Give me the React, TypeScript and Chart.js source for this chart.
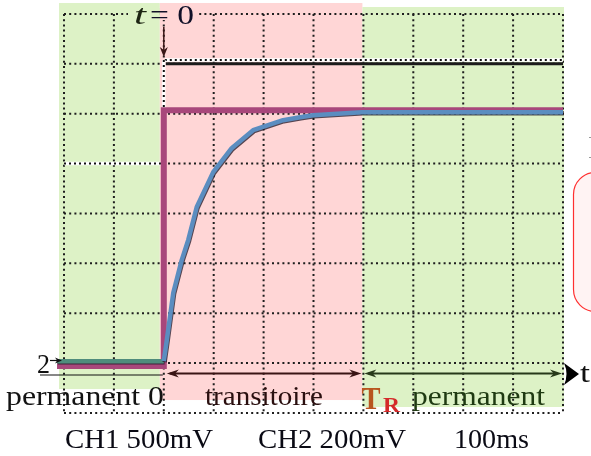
import React, { useEffect, useRef } from "react";
import { Chart, registerables } from "chart.js";
Chart.register(...registerables);

// x: time in ms (100 ms / division, t = 0 at the step); y: screen divisions (0 = bottom graticule line)
const ch1Time = [-214, 0, 0, 800];
const ch1Level = [0.94, 0.94, 6.07, 6.07];
const ch2Time = [-214, 0, 6, 19, 36, 49, 66, 99, 136, 179, 239, 273, 299, 397, 800];
const ch2Level = [1.04, 1.04, 1.46, 2.41, 3.07, 3.47, 4.13, 4.83, 5.31, 5.67, 5.87, 5.93, 5.97, 6.03, 6.03];
const refTime = [4, 800];
const refLevel = [7.0, 7.0];
const gridTimes = [-200, -100, 0, 100, 200, 300, 400, 500, 600, 700, 800];
const gridDivs = [0, 1, 2, 3, 4, 5, 6, 7, 8];
const cursorHigh = 7.08;
const cursorLow = 5.0;
const tR = 398;
const bottomLabels = ["CH1 500mV", "CH2 200mV", "100ms"];
const phaseLabels = ["permanent 0", "transitoire", "permanent"];

const GREEN = "#ddf2c6";
const PINK = "#ffd6d6";
const SERIF = '"Liberation Serif", "DejaVu Serif", serif';

function pts(xs: number[], ys: number[]) {
  return xs.map((v, i) => ({ x: v, y: ys[i] }));
}

function dotted(ctx: CanvasRenderingContext2D, x1: number, y1: number, x2: number, y2: number, color = "#1e1e1e") {
  ctx.save();
  ctx.strokeStyle = color;
  ctx.lineWidth = 2;
  ctx.setLineDash([2, 3.2]);
  ctx.beginPath();
  ctx.moveTo(x1, y1);
  ctx.lineTo(x2, y2);
  ctx.stroke();
  ctx.restore();
}

function cursor(ctx: CanvasRenderingContext2D, x1: number, y1: number, x2: number, y2: number) {
  ctx.save();
  ctx.strokeStyle = "#ffffff";
  ctx.lineWidth = 3.5;
  ctx.beginPath();
  ctx.moveTo(x1, y1);
  ctx.lineTo(x2, y2);
  ctx.stroke();
  ctx.strokeStyle = "#111";
  ctx.lineWidth = 2;
  ctx.setLineDash([2, 3]);
  ctx.beginPath();
  ctx.moveTo(x1, y1);
  ctx.lineTo(x2, y2);
  ctx.stroke();
  ctx.restore();
}

function fitText(ctx: CanvasRenderingContext2D, text: string, x: number, y: number, width: number, font: string, color: string) {
  ctx.save();
  ctx.font = font;
  ctx.fillStyle = color;
  ctx.textBaseline = "alphabetic";
  ctx.textAlign = "left";
  const w = ctx.measureText(text).width;
  ctx.translate(x, y);
  ctx.scale(width / w, 1);
  ctx.fillText(text, 0, 0);
  ctx.restore();
}

function head(ctx: CanvasRenderingContext2D, tx: number, ty: number, dx: number, dy: number, len: number, half: number, color: string) {
  const px = -dy, py = dx;
  const bx = tx - dx * len, by = ty - dy * len;
  const nx = tx - dx * len * 0.7, ny = ty - dy * len * 0.7;
  ctx.save();
  ctx.fillStyle = color;
  ctx.beginPath();
  ctx.moveTo(tx, ty);
  ctx.lineTo(bx + px * half, by + py * half);
  ctx.lineTo(nx, ny);
  ctx.lineTo(bx - px * half, by - py * half);
  ctx.closePath();
  ctx.fill();
  ctx.restore();
}

function line(ctx: CanvasRenderingContext2D, x1: number, y1: number, x2: number, y2: number, color: string, w: number) {
  ctx.save();
  ctx.strokeStyle = color;
  ctx.lineWidth = w;
  ctx.beginPath();
  ctx.moveTo(x1, y1);
  ctx.lineTo(x2, y2);
  ctx.stroke();
  ctx.restore();
}

const deco = {
  id: "deco",
  beforeDatasetsDraw(chart: any) {
    const { ctx, scales } = chart;
    const X = (v: number) => scales.x.getPixelForValue(v);
    const Y = (v: number) => scales.y.getPixelForValue(v);
    ctx.save();
    ctx.fillStyle = GREEN;
    ctx.fillRect(59, Y(8.22), X(-8) - 59, Y(0.48) - Y(8.22));
    ctx.fillStyle = PINK;
    ctx.fillRect(X(-8), Y(8.22), X(tR) - X(-8), Y(0.26) - Y(8.22));
    ctx.fillStyle = GREEN;
    ctx.fillRect(X(tR), Y(8.14), X(802) - X(tR), Y(0.12) - Y(8.14));
    gridTimes.forEach((t) => dotted(ctx, X(t), Y(8), X(t), Y(0)));
    gridDivs.forEach((d) => dotted(ctx, X(-200), Y(d), X(800), Y(d)));
    cursor(ctx, X(0) + 1, Y(cursorHigh), X(800), Y(cursorHigh));
    cursor(ctx, X(0), Y(cursorHigh), X(0), Y(ch1Level[2]));
    cursor(ctx, X(-200), Y(cursorLow), X(0) - 2, Y(cursorLow));
    ctx.restore();
  },
  beforeDatasetDraw(chart: any, args: any) {
    if (args.index === 0) {
      const ctx = chart.ctx;
      ctx.save();
      ctx.shadowColor = "rgba(30,20,35,0.75)";
      ctx.shadowOffsetX = 0.8;
      ctx.shadowOffsetY = 1;
      ctx.shadowBlur = 0.3;
    }
  },
  afterDatasetDraw(chart: any, args: any) {
    if (args.index === 0) chart.ctx.restore();
  },
  afterDatasetsDraw(chart: any) {
    const { ctx, scales } = chart;
    const X = (v: number) => scales.x.getPixelForValue(v);
    const Y = (v: number) => scales.y.getPixelForValue(v);
    ctx.save();

    ctx.fillStyle = GREEN;
    ctx.fillRect(128, 8, X(-8) - 128, 12);
    ctx.fillStyle = PINK;
    ctx.fillRect(X(-8), 8, 198 - X(-8), 12);
    fitText(ctx, "t", 134, 24, 12, `italic 28px ${SERIF}`, "#1c2412");
    fitText(ctx, "= 0", 150, 24, 44, `28px ${SERIF}`, "#101028");
    line(ctx, X(0), 27, X(0), 50, "#3a1616", 1.5);
    head(ctx, X(0), 57, 0, 1, 10, 4, "#3a1616");

    fitText(ctx, "2", 37, 373, 13, `28px ${SERIF}`, "#111");
    line(ctx, 50, 360.5, 58, 360.5, "#111", 1.2);
    head(ctx, 62, 360.5, 1, 0, 7, 3, "#111");
    line(ctx, 40, 375, X(0) - 1, 375, "#111", 1);

    const ya = 373.5;
    line(ctx, X(0) + 6, ya, X(tR) - 6, ya, "#3a1414", 2);
    head(ctx, X(0) + 3, ya, -1, 0, 12, 4, "#3a1414");
    head(ctx, X(tR) - 1, ya, 1, 0, 12, 4, "#3a1414");
    line(ctx, X(tR) + 6, ya, X(800) - 6, ya, "#27391a", 2);
    head(ctx, X(tR) + 2, ya, -1, 0, 12, 4, "#27391a");
    head(ctx, X(800) - 1, ya, 1, 0, 12, 4, "#27391a");

    ctx.fillStyle = "#000";
    ctx.beginPath();
    ctx.moveTo(X(800) + 1, 363);
    ctx.quadraticCurveTo(X(800) + 6, 374, X(800) + 1, 385);
    ctx.lineTo(X(800) + 16, 374);
    ctx.closePath();
    ctx.fill();
    fitText(ctx, "t", 580, 382, 10, `28px ${SERIF}`, "#111");

    fitText(ctx, phaseLabels[0], 6, 405, 158, `28px ${SERIF}`, "#121212");
    fitText(ctx, phaseLabels[1], 205, 405, 118, `28px ${SERIF}`, "#2a0f0f");
    fitText(ctx, phaseLabels[2], 412, 405, 133, `28px ${SERIF}`, "#1f3a12");
    fitText(ctx, "T", X(tR) - 1, 409, 19, `bold 32px ${SERIF}`, "#b8561f");
    fitText(ctx, "R", 383, 412, 17, `bold 21px ${SERIF}`, "#d42a2a");

    fitText(ctx, bottomLabels[0], 65, 448, 148, `28px ${SERIF}`, "#0a0a14");
    fitText(ctx, bottomLabels[1], 258, 448, 148, `28px ${SERIF}`, "#0a0a14");
    fitText(ctx, bottomLabels[2], 454, 448, 75, `28px ${SERIF}`, "#0a0a14");

    ctx.fillStyle = "#fff3f3";
    ctx.strokeStyle = "#ff3030";
    ctx.lineWidth = 1.2;
    ctx.beginPath();
    (ctx as any).roundRect(573.5, 172.5, 60, 139, 22);
    ctx.fill();
    ctx.stroke();
    ctx.fillStyle = "#999";
    ctx.fillRect(589, 137, 2, 1);
    ctx.fillRect(589, 157, 2, 1);
    ctx.restore();
  },
};

export default function App() {
  const ref = useRef<HTMLCanvasElement | null>(null);
  useEffect(() => {
    if (!ref.current) return;
    const chart = new Chart(ref.current, {
      type: "line",
      data: {
        datasets: [
          {
            label: "CH2",
            data: pts(ch2Time, ch2Level),
            borderColor: "#5b8dc0",
            borderWidth: 4.5,
            pointRadius: 0,
            tension: 0,
            borderJoinStyle: "round",
            order: 0,
            segment: {
              borderColor: (c: any) => (c.p1.parsed.x <= 0 ? "#4f8c7c" : undefined),
            },
          } as any,
          {
            label: "CH1",
            data: pts(ch1Time, ch1Level),
            borderColor: "#a8477b",
            borderWidth: 6,
            pointRadius: 0,
            tension: 0,
            borderJoinStyle: "miter",
            order: 1,
          },
          {
            label: "ref",
            data: pts(refTime, refLevel),
            borderColor: "#1b1b1b",
            borderWidth: 3,
            pointRadius: 0,
            order: 2,
          },
        ],
      },
      options: {
        responsive: false,
        maintainAspectRatio: false,
        devicePixelRatio: 1,
        animation: false,
        layout: { padding: 0 },
        plugins: { legend: { display: false }, tooltip: { enabled: false } },
        scales: {
          x: { type: "linear", display: false, min: -328.26, max: 856.11 },
          y: { type: "linear", display: false, min: -0.8622, max: 8.2807 },
        },
      },
      plugins: [deco],
    });
    return () => chart.destroy();
  }, []);
  return (
    <div style={{ position: "absolute", left: 0, top: 0, width: 591, height: 456, background: "#fff" }}>
      <canvas ref={ref} width={591} height={456} style={{ display: "block" }} />
    </div>
  );
}
